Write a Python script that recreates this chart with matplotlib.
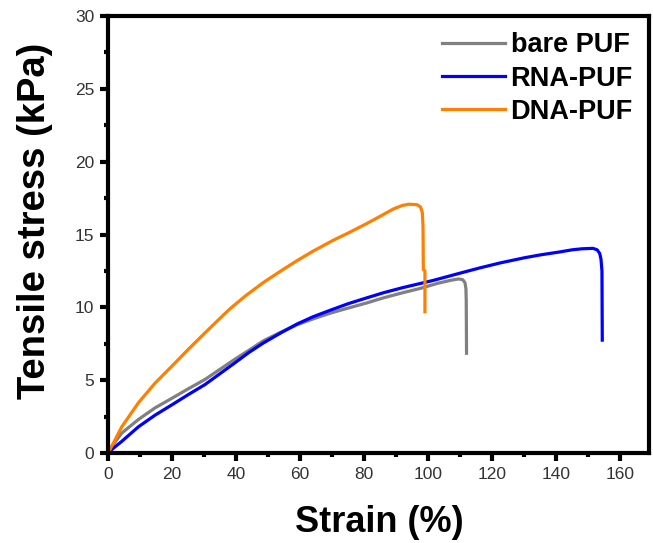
import matplotlib
matplotlib.use("Agg")
import matplotlib.pyplot as plt
from matplotlib.ticker import MultipleLocator

plt.rcParams['font.family'] = ['Liberation Sans', 'DejaVu Sans']

# bare PUF
bare_x = [0, 1.5, 4.3, 9.5, 14.7, 19.9, 25, 30.3, 35, 39.7, 44, 48.5, 54, 59, 64, 69.4, 75, 80.8,
          86, 92, 97.5, 103, 106.9, 109.5, 110.8, 111.5, 111.8, 111.9, 112.0]
bare_y = [0, 0.55, 1.37, 2.3, 3.1, 3.75, 4.4, 5.05, 5.75, 6.45, 7.05, 7.7, 8.3, 8.8, 9.2, 9.6, 9.95, 10.3,
          10.65, 11.0, 11.3, 11.65, 11.85, 11.95, 11.9, 11.7, 11.3, 10.5, 6.85]

# RNA-PUF
rna_x = [0, 1.5, 4.3, 9.5, 14.7, 19.9, 25, 30.3, 35, 39.7, 44, 48.5, 54, 59, 64, 69.4, 75, 80.8,
         86, 92, 101.6, 110, 116, 122.5, 130, 135, 141, 145, 148, 151.5, 152.8, 153.6, 154.0, 154.3, 154.4]
rna_y = [0, 0.3, 0.8, 1.8, 2.6, 3.3, 4.0, 4.7, 5.45, 6.2, 6.9, 7.55, 8.25, 8.85, 9.35, 9.8, 10.25, 10.65,
         11.0, 11.35, 11.85, 12.35, 12.7, 13.05, 13.4, 13.6, 13.8, 13.95, 14.02, 14.05, 13.95, 13.7, 13.3, 12.5, 7.75]

# DNA-PUF
dna_x = [0, 1.5, 4.3, 9.5, 14.7, 19.9, 25, 30.3, 35, 38.1, 43, 48.5, 54, 59, 64, 70.3, 75, 80.8,
         85, 89.1, 92, 94, 96.5, 97.6, 98.2, 98.4, 98.5, 99.0, 99.0]
dna_y = [0, 0.6, 1.8, 3.45, 4.8, 5.95, 7.1, 8.25, 9.25, 9.9, 10.8, 11.7, 12.5, 13.2, 13.85, 14.6, 15.1, 15.75,
         16.25, 16.75, 17.0, 17.08, 17.05, 16.9, 16.5, 15.5, 12.6, 12.5, 9.7]

series = [
    ("bare PUF", bare_x, bare_y, "#808080"),
    ("RNA-PUF", rna_x, rna_y, "#0000FF"),
    ("DNA-PUF", dna_x, dna_y, "#FF8000"),
]

fig = plt.figure(figsize=(6.53, 5.43), dpi=100)
ax = fig.add_axes([0.1654, 0.1657, 0.8285, 0.8048])

for name, xs, ys, c in series:
    ax.plot(xs, ys, color=c, lw=2.3, label=name, solid_joinstyle='round')

ax.set_xlim(0, 169)
ax.set_ylim(0, 30)
ax.xaxis.set_major_locator(MultipleLocator(20))
ax.xaxis.set_minor_locator(MultipleLocator(10))
ax.yaxis.set_major_locator(MultipleLocator(5))
ax.yaxis.set_minor_locator(MultipleLocator(2.5))

for sp in ax.spines.values():
    sp.set_linewidth(3)
ax.tick_params(which='major', direction='out', length=6, width=3, labelsize=12.5,
               labelcolor='#333333', pad=4)
ax.tick_params(which='minor', direction='out', length=3, width=3)
ax.tick_params(top=False, right=False, which='both')

ax.set_xlabel("Strain (%)", fontsize=26, fontweight='bold')
ax.set_ylabel("Tensile stress (kPa)", fontsize=27.5, fontweight='bold')
ax.xaxis.set_label_coords(0.502, -0.12)
ax.yaxis.set_label_coords(-0.102, 0.531)

leg = ax.legend(loc='upper right', frameon=False, prop={'weight': 'bold', 'size': 19.5},
                handlelength=2.33, handletextpad=0.19, labelspacing=0.27,
                borderaxespad=0.4, borderpad=0.2)

fig.savefig("out.png", dpi=100)
